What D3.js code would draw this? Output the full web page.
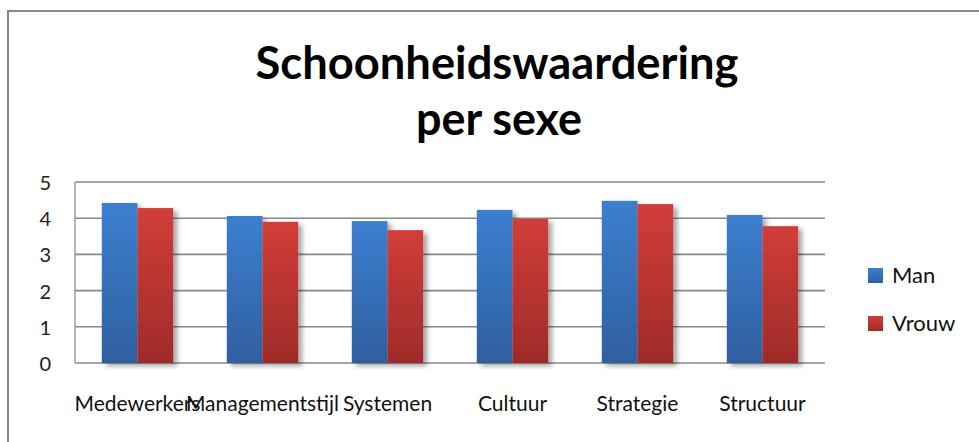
<!DOCTYPE html>
<meta charset="utf-8">
<script src="https://d3js.org/d3.v7.min.js"></script>
<style>
  body { margin: 0; background: #fff; }
  text { font-family: Lato, "Open Sans", sans-serif; }
</style>
<div id="my_dataviz"></div>
<script>

// data
var categories = ["Medewerkers", "Managementstijl", "Systemen", "Cultuur", "Strategie", "Structuur"];
var seriesNames = ["Man", "Vrouw"];
var man   = [4.42, 4.06, 3.92, 4.23, 4.48, 4.09];
var vrouw = [4.28, 3.90, 3.67, 3.98, 4.39, 3.78];
var yTicks = [0, 1, 2, 3, 4, 5];

var width = 979, height = 442;
var plot = {left: 75, right: 825, top: 182, bottom: 363};

var svg = d3.select("#my_dataviz")
  .append("svg")
    .attr("width", width)
    .attr("height", height);

// gradients + shadow
var defs = svg.append("defs");
var grads = [["gMan", "#3c7fd0", "#2f5f9f"], ["gVrouw", "#d23d39", "#9f2b29"]];
grads.forEach(function (g) {
  var lg = defs.append("linearGradient")
    .attr("id", g[0]).attr("x1", 0).attr("y1", 0).attr("x2", 0).attr("y2", 1);
  lg.append("stop").attr("offset", "0%").attr("stop-color", g[1]);
  lg.append("stop").attr("offset", "100%").attr("stop-color", g[2]);
});
var f = defs.append("filter").attr("id", "shadow")
  .attr("x", "-20%").attr("y", "-5%").attr("width", "150%").attr("height", "120%");
f.append("feGaussianBlur").attr("in", "SourceAlpha").attr("stdDeviation", 2.5).attr("result", "b");
f.append("feOffset").attr("in", "b").attr("dx", 4).attr("dy", 3).attr("result", "o");
f.append("feComponentTransfer").attr("in", "o").attr("result", "s")
  .append("feFuncA").attr("type", "linear").attr("slope", 0.35);
var m = f.append("feMerge");
m.append("feMergeNode").attr("in", "s");
m.append("feMergeNode").attr("in", "SourceGraphic");

// chart frame (runs off the right and bottom of the picture)
svg.append("rect")
  .attr("x", 8).attr("y", 11)
  .attr("width", 990).attr("height", 450)
  .attr("fill", "none")
  .attr("stroke", "#878787")
  .attr("stroke-width", 2);

// title
svg.append("text")
  .attr("x", 497).attr("y", 79)
  .attr("text-anchor", "middle")
  .attr("font-size", 45).attr("font-weight", "bold")
  .attr("fill", "#000")
  .attr("textLength", 483).attr("lengthAdjust", "spacingAndGlyphs")
  .text("Schoonheidswaardering");
svg.append("text")
  .attr("x", 499).attr("y", 135)
  .attr("text-anchor", "middle")
  .attr("font-size", 45).attr("font-weight", "bold")
  .attr("fill", "#000")
  .attr("textLength", 166).attr("lengthAdjust", "spacingAndGlyphs")
  .text("per sexe");

// scales
var x0 = d3.scaleBand()
  .domain(categories)
  .range([plot.left, plot.right])
  .paddingInner(0.4286)
  .paddingOuter(0.2143);
var x1 = d3.scaleBand()
  .domain(seriesNames)
  .range([0, x0.bandwidth()]);
var y = d3.scaleLinear()
  .domain([0, 5])
  .range([plot.bottom, plot.top]);

// gridlines
svg.append("g")
  .selectAll("line")
  .data(yTicks)
  .enter()
  .append("line")
    .attr("x1", plot.left).attr("x2", plot.right)
    .attr("y1", function (d) { return y(d); })
    .attr("y2", function (d) { return y(d); })
    .attr("stroke", "#888")
    .attr("stroke-width", 1.6);

// y axis line
svg.append("line")
  .attr("x1", plot.left).attr("x2", plot.left)
  .attr("y1", y(5)).attr("y2", y(0))
  .attr("stroke", "#888").attr("stroke-width", 1.2);

// y labels
svg.append("g")
  .selectAll("text")
  .data(yTicks)
  .enter()
  .append("text")
    .attr("x", 51)
    .attr("y", function (d) { return y(d) + 8; })
    .attr("text-anchor", "end")
    .attr("font-size", 20)
    .attr("fill", "#222")
    .text(function (d) { return d; });

// bars
var rows = categories.map(function (c, i) {
  return {cat: c, vals: [{s: "Man", v: man[i]}, {s: "Vrouw", v: vrouw[i]}]};
});
svg.append("g")
  .selectAll("g")
  .data(rows)
  .enter()
  .append("g")
    .attr("transform", function (d) { return "translate(" + x0(d.cat) + ",0)"; })
    .attr("filter", "url(#shadow)")
  .selectAll("rect")
  .data(function (d) { return d.vals; })
  .enter()
  .append("rect")
    .attr("x", function (d) { return x1(d.s); })
    .attr("y", function (d) { return y(d.v); })
    .attr("width", x1.bandwidth())
    .attr("height", function (d) { return y(0) - y(d.v); })
    .attr("fill", function (d) { return d.s == "Man" ? "url(#gMan)" : "url(#gVrouw)"; });

// category labels
svg.append("g")
  .selectAll("text")
  .data(categories)
  .enter()
  .append("text")
    .attr("x", function (d) { return x0(d) + x0.bandwidth() / 2; })
    .attr("y", 411)
    .attr("text-anchor", "middle")
    .attr("font-size", 21)
    .attr("fill", "#111")
    .text(function (d) { return d; });

// legend
var legend = svg.append("g")
  .selectAll("g")
  .data(seriesNames)
  .enter()
  .append("g")
    .attr("transform", function (d, i) { return "translate(868," + (268 + i * 48) + ")"; });
legend.append("rect")
  .attr("width", 15).attr("height", 15)
  .attr("fill", function (d) { return d == "Man" ? "url(#gMan)" : "url(#gVrouw)"; });
legend.append("text")
  .attr("x", 24).attr("y", 15)
  .attr("font-size", 22)
  .attr("fill", "#111")
  .text(function (d) { return d; });

</script>
